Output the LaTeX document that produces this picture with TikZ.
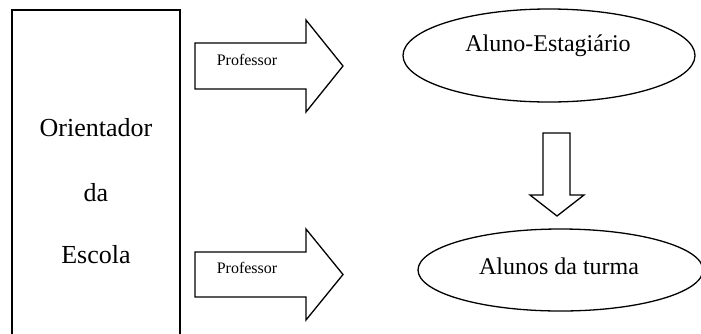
\documentclass[tikz,border=0pt]{standalone}
\usepackage{fontspec}
\setmainfont{Liberation Serif}
\usetikzlibrary{shapes.geometric}
\tikzset{
  line/.style={draw=black, line width=1.3pt},
  bigtxt/.style={font=\fontsize{26}{30}\selectfont, inner sep=0pt},
  midtxt/.style={font=\fontsize{24}{28}\selectfont, inner sep=0pt},
  smalltxt/.style={font=\fontsize{16}{19}\selectfont, inner sep=0pt},
  oval/.style={line, ellipse, inner sep=0pt},
  blockarrow/.style={line, fill=white, line join=miter}
}
\begin{document}
\begin{tikzpicture}[x=1pt, y=-1pt]
\useasboundingbox (0,0) rectangle (701,333);
\clip (0,0) rectangle (701,333);
\fill[white] (0,0) rectangle (701,333);
% left box
\node[line, rectangle, minimum width=168pt, minimum height=335pt, inner sep=0pt] (box) at (96,177.5) {};
\node[bigtxt] (t1) at (96,128) {Orientador};
\node[bigtxt] (t2) at (96,193) {da};
\node[bigtxt] (t3) at (96,255) {Escola};
% ellipses
\node[oval, minimum width=292pt, minimum height=93pt] (e1) at (549,55.5) {};
\node[midtxt] (e1t) at (548,46) {Aluno-Estagiário};
\node[oval, minimum width=285pt, minimum height=82pt] (e2) at (560.5,270) {};
\node[midtxt] (e2t) at (559,266) {Alunos da turma};
% block arrows
\draw[blockarrow] (195,43) -- (306,43) -- (306,20) -- (343,66) -- (306,112) -- (306,89) -- (195,89) -- cycle;
\node[smalltxt] (p1) at (247,60) {Professor};
\draw[blockarrow] (195,252) -- (306,252) -- (306,229) -- (343,274.5) -- (306,320) -- (306,297) -- (195,297) -- cycle;
\node[smalltxt] (p2) at (247,267.5) {Professor};
% down arrow
\draw[blockarrow] (543,133) -- (570,133) -- (570,195) -- (584,195) -- (557,216) -- (530,195) -- (543,195) -- cycle;
\end{tikzpicture}
\end{document}
